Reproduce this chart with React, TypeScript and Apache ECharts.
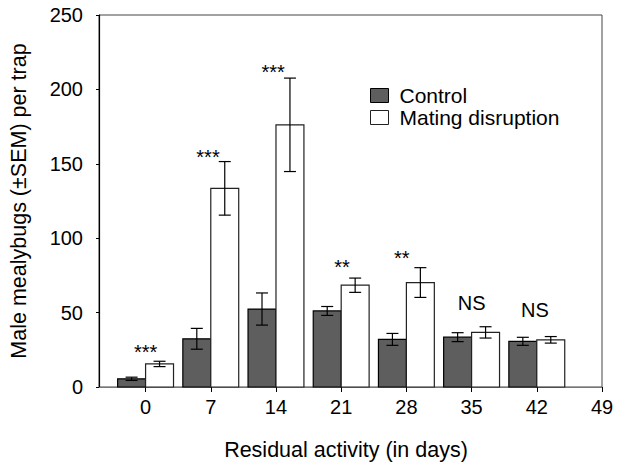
import React, { useEffect, useRef } from "react";
import * as echarts from "echarts";

const DAYS = [0, 7, 14, 21, 28, 35, 42];
const TICK_DAYS = [0, 7, 14, 21, 28, 35, 42, 49];
const CONTROL = [5.5, 32.4, 52.4, 51.1, 32, 33.5, 30.7];
const CONTROL_SEM = [1.1, 7, 10.8, 3, 4, 3, 2.7];
const MATING = [15.5, 133.5, 176.2, 68.4, 70.2, 36.7, 31.7];
const MATING_SEM = [1.8, 18, 31.4, 4.8, 10, 3.8, 2.2];
const SIG_TEXT = ["***", "***", "***", "**", "**", "NS", "NS"];
const SIG_X = [0, 6.7, 13.7, 21.1, 27.5, 35, 41.8];
const SIG_Y = [23.5, 154.6, 211.7, 80.4, 86.4, 56.2, 51.7];
const SERIES_NAMES = ["Control", "Mating disruption"];

const FONT = "'Liberation Sans', Arial, Helvetica, sans-serif";
const BAR_DAYS = 3;

function barRenderer(side: number, fill: string, stroke: string) {
  return (params: any, api: any) => {
    const t = api.value(0);
    const m = api.value(1);
    const s = api.value(2);
    const x0 = side < 0 ? t - BAR_DAYS : t;
    const x1 = side < 0 ? t : t + BAR_DAYS;
    const pTop = api.coord([x0, m]);
    const pBot = api.coord([x1, 0]);
    const xc = (pTop[0] + pBot[0]) / 2;
    const eTop = api.coord([(x0 + x1) / 2, m + s])[1];
    const eBot = api.coord([(x0 + x1) / 2, m - s])[1];
    const cap = 6;
    const lineStyle = { stroke: "#000", lineWidth: 1.2 };
    return {
      type: "group",
      children: [
        {
          type: "rect",
          shape: { x: pTop[0], y: pTop[1], width: pBot[0] - pTop[0], height: pBot[1] - pTop[1] },
          style: { fill, stroke, lineWidth: 1.2 },
        },
        { type: "line", shape: { x1: xc, y1: eTop, x2: xc, y2: eBot }, style: lineStyle },
        { type: "line", shape: { x1: xc - cap, y1: eTop, x2: xc + cap, y2: eTop }, style: lineStyle },
        { type: "line", shape: { x1: xc - cap, y1: eBot, x2: xc + cap, y2: eBot }, style: lineStyle },
      ],
    };
  };
}

export default function App() {
  const ref = useRef<HTMLDivElement>(null);
  useEffect(() => {
    if (!ref.current) return;
    const chart = echarts.init(ref.current, null, { renderer: "svg" });
    const controlData = DAYS.map((d, i) => [d, CONTROL[i], CONTROL_SEM[i]]);
    const matingData = DAYS.map((d, i) => [d, MATING[i], MATING_SEM[i]]);
    const sigData = SIG_X.map((x, i) => [x, SIG_Y[i]]);
    chart.setOption({
      animation: false,
      backgroundColor: "#fff",
      textStyle: { fontFamily: FONT },
      grid: {
        left: 99,
        right: 24,
        top: 15,
        bottom: 77,
        show: true,
        borderColor: "#444",
        borderWidth: 1,
        backgroundColor: "transparent",
      },
      legend: {
        orient: "vertical",
        left: 365,
        top: 80,
        itemWidth: 18,
        itemHeight: 14,
        itemGap: 1,
        selectedMode: false,
        textStyle: { fontSize: 21, color: "#000", fontFamily: FONT, padding: [0, 0, 0, 6] },
        data: [
          { name: SERIES_NAMES[0], icon: "rect", itemStyle: { color: "#5e5e5e", borderColor: "#000", borderWidth: 1 } },
          { name: SERIES_NAMES[1], icon: "rect", itemStyle: { color: "#fff", borderColor: "#222", borderWidth: 1 } },
        ],
      },
      xAxis: {
        type: "value",
        min: -5,
        max: 49,
        name: "Residual activity (in days)",
        nameLocation: "middle",
        nameGap: 52,
        nameTextStyle: { fontSize: 21.5, color: "#000", fontFamily: FONT, padding: [0, 9, 0, 0] },
        axisLine: { show: true, onZero: false, lineStyle: { color: "#777", width: 1.2 } },
        axisTick: { show: true, length: 5, customValues: TICK_DAYS, lineStyle: { color: "#000", width: 1 } },
        axisLabel: { customValues: TICK_DAYS, fontSize: 20, color: "#000", margin: 10, fontFamily: FONT },
        splitLine: { show: false },
      },
      yAxis: {
        type: "value",
        min: 0,
        max: 250,
        interval: 50,
        name: "Male mealybugs (\u00b1SEM) per trap",
        nameLocation: "middle",
        nameGap: 69,
        nameTextStyle: { fontSize: 21.5, color: "#000", fontFamily: FONT },
        axisLine: { show: true, onZero: false, lineStyle: { color: "#000", width: 1.2 } },
        axisTick: { show: true, length: 3, lineStyle: { color: "#000", width: 1 } },
        axisLabel: { fontSize: 20, color: "#000", margin: 16, fontFamily: FONT },
        splitLine: { show: false },
      },
      series: [
        {
          name: SERIES_NAMES[0],
          type: "custom",
          renderItem: barRenderer(-1, "#5e5e5e", "#000"),
          encode: { x: 0, y: 1 },
          data: controlData,
          itemStyle: { color: "#5e5e5e" },
        },
        {
          name: SERIES_NAMES[1],
          type: "custom",
          renderItem: barRenderer(1, "#fff", "#222"),
          encode: { x: 0, y: 1 },
          data: matingData,
          itemStyle: { color: "#fff" },
        },
        {
          name: "sig",
          type: "custom",
          encode: { x: 0, y: 1 },
          data: sigData,
          renderItem: (params: any, api: any) => {
            const p = api.coord([api.value(0), api.value(1)]);
            return {
              type: "text",
              x: p[0],
              y: p[1],
              style: {
                text: SIG_TEXT[params.dataIndex],
                fontSize: 20,
                fontFamily: FONT,
                fill: "#000",
                align: "center",
                verticalAlign: "middle",
              },
            };
          },
        },
      ],
    });
    return () => chart.dispose();
  }, []);
  return (
    <div
      ref={ref}
      style={{ position: "fixed", left: 0, top: 0, width: 626, height: 466, background: "#fff" }}
    />
  );
}
